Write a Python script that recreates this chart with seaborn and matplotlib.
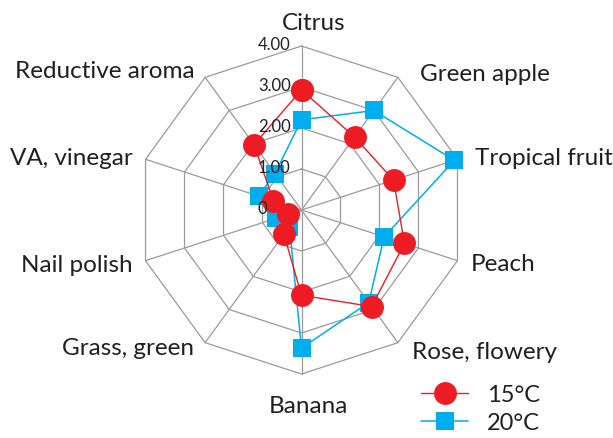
import numpy as np
import pandas as pd
import matplotlib
matplotlib.use("Agg")
import matplotlib.pyplot as plt
from matplotlib.lines import Line2D
import seaborn as sns

categories = ["Citrus", "Green apple", "Tropical fruit", "Peach", "Rose, flowery",
              "Banana", "Grass, green", "Nail polish", "VA, vinegar", "Reductive aroma"]
vals_15 = [2.93, 2.20, 2.36, 2.64, 2.91, 2.08, 0.73, 0.35, 0.72, 1.97]
vals_20 = [2.20, 3.00, 3.92, 2.12, 2.79, 3.37, 0.50, 0.65, 1.10, 1.10]
series = ["15°C", "20°C"]
tick_vals = [0, 1, 2, 3, 4]
tick_labels = ["0", "1.00", "2.00", "3.00", "4.00"]

sns.set_style("white")
plt.rcParams["font.family"] = ["Lato", "DejaVu Sans"]

RED = "#ED1C24"
BLUE = "#00AEEF"
GRID = "#9a9a9a"
TXT = "#231f20"

W, H = 613, 439
fig = plt.figure(figsize=(W / 100, H / 100), dpi=100)
cx, cy, R = 301.5, 211, 164
ax = fig.add_axes([(cx - R) / W, (H - cy - R) / H, 2 * R / W, 2 * R / H], projection="polar")
ax.set_theta_zero_location("N")
ax.set_theta_direction(-1)
ax.set_ylim(0, 4)
ax.grid(False)
ax.spines["polar"].set_visible(False)
ax.set_xticks([])
ax.set_yticks([])
ax.set_facecolor("none")

n = len(categories)
theta = np.arange(n) * 2 * np.pi / n
theta_c = np.append(theta, 2 * np.pi)

# polygon grid
for lvl in tick_vals[1:]:
    ax.plot(theta_c, [lvl] * (n + 1), color=GRID, lw=0.9, zorder=1, clip_on=False)
for t in theta:
    ax.plot([t, t], [0, tick_vals[-1]], color=GRID, lw=0.9, zorder=1, clip_on=False)

# tick labels along Citrus axis
for v, lab in zip(tick_vals, tick_labels):
    x_px = 258
    y_px = cy - v * R / 4 - 2
    fig.text(x_px / W, 1 - y_px / H, lab, ha="left", va="center", fontsize=12,
             color=TXT, zorder=2)

rows = []
for s, vals in zip(series, [vals_15, vals_20]):
    vv = list(vals) + [vals[0]]
    for t, v in zip(theta_c, vv):
        rows.append({"theta": t, "value": v, "series": s})
df = pd.DataFrame(rows)

sns.lineplot(data=df[df.series == "20°C"], x="theta", y="value", sort=False,
             color=BLUE, lw=1.1, marker="s", markersize=13, markeredgewidth=0,
             ax=ax, zorder=3, legend=False, clip_on=False)
sns.lineplot(data=df[df.series == "15°C"], x="theta", y="value", sort=False,
             color=RED, lw=1.0, marker="o", markersize=16.5, markeredgewidth=0,
             ax=ax, zorder=4, legend=False, clip_on=False)
ax.set_xlabel("")
ax.set_ylabel("")
ax.set_xticks([])
ax.set_yticks([])
ax.set_ylim(0, 4)

# category labels (pixel layout)
label_pos = {
    "Citrus": (314, 23, "center"),
    "Green apple": (420, 75, "left"),
    "Tropical fruit": (475, 159, "left"),
    "Peach": (471, 265, "left"),
    "Rose, flowery": (412, 353, "left"),
    "Banana": (308, 407, "center"),
    "Grass, green": (194, 349, "right"),
    "Nail polish": (133, 266, "right"),
    "VA, vinegar": (133, 159, "right"),
    "Reductive aroma": (195, 72, "right"),
}
for cat in categories:
    x, y, ha = label_pos[cat]
    fig.text(x / W, 1 - y / H, cat, ha=ha, va="center", fontsize=17.5, color=TXT)

handles = [
    Line2D([], [], color=RED, lw=1.0, marker="o", markersize=16.5, markeredgewidth=0),
    Line2D([], [], color=BLUE, lw=1.1, marker="s", markersize=13, markeredgewidth=0),
]
leg = fig.legend(handles, series, loc="upper left",
                 bbox_to_anchor=(421 / W, 1 - 385 / H), frameon=False,
                 fontsize=17, handlelength=2.0, handletextpad=0.8,
                 labelspacing=0.3, borderpad=0, borderaxespad=0)
for t in leg.get_texts():
    t.set_color(TXT)

fig.savefig("out.png", dpi=100)
